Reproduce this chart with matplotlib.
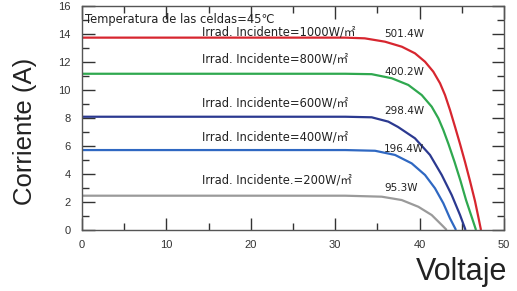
import numpy as np
import matplotlib
matplotlib.use('Agg')
import matplotlib.pyplot as plt
from matplotlib.ticker import MultipleLocator

## curve data (voltage V, current A)
v_1000 = [0, 31.2, 33.5, 35.9, 37.9, 39.45, 40.64, 41.62, 42.42, 43.01, 43.6, 44.19,
          44.79, 45.38, 45.97, 46.56, 46.98, 47.27]
i_1000 = [13.74, 13.74, 13.69, 13.45, 13.09, 12.62, 12.02, 11.31, 10.48, 9.64, 8.57, 7.38,
          6.14, 4.86, 3.5, 2.07, 0.86, 0.0]

v_800 = [0, 31.2, 34.32, 36.69, 38.66, 40.25, 41.43, 42.22, 42.81, 43.42, 44.14, 44.85,
         45.5, 46.21, 46.68]
i_800 = [11.16, 11.16, 11.13, 10.84, 10.36, 9.64, 8.81, 7.98, 7.14, 6.14, 4.86, 3.5,
         2.14, 0.86, 0.0]

v_600 = [0, 31.2, 34.32, 36.29, 37.44, 39.45, 41.23, 42.62, 43.8, 44.79, 45.44]
i_600 = [8.09, 8.09, 8.05, 7.74, 7.36, 6.55, 5.36, 3.93, 2.5, 1.07, 0.0]

v_400 = [0, 31.2, 34.72, 37.09, 39.06, 40.64, 41.82, 42.81, 43.6, 44.31]
i_400 = [5.71, 5.71, 5.66, 5.36, 4.76, 3.93, 2.98, 1.91, 0.83, 0.0]

v_200 = [0, 31.2, 35.51, 37.88, 39.85, 41.43, 42.62, 43.21]
i_200 = [2.45, 2.45, 2.38, 2.14, 1.66, 1.07, 0.36, 0.0]

irrad_labels = ['Irrad. Incidente=1000W/㎡', 'Irrad. Incidente=800W/㎡',
                'Irrad. Incidente=600W/㎡', 'Irrad. Incidente=400W/㎡',
                'Irrad. Incidente.=200W/㎡']
irrad_y = [14.15, 12.2, 9.07, 6.64, 3.57]
power_labels = ['501.4W', '400.2W', '298.4W', '196.4W', '95.3W']
power_y = [13.98, 11.26, 8.5, 5.79, 2.98]

colors = ['#d7262f', '#2fa84f', '#2b3990', '#2f68c2', '#9a9a9a']
curves = [(v_1000, i_1000), (v_800, i_800), (v_600, i_600),
          (v_400, i_400), (v_200, i_200)]

fam = ['DejaVu Sans', 'Noto Sans CJK SC']

fig = plt.figure(figsize=(5.17, 2.91), dpi=100)
ax = fig.add_axes([0.1586, 0.2096, 0.8163, 0.7698])

for (vv, ii), c in zip(curves, colors):
    ax.plot(vv, ii, color=c, lw=1.6, solid_capstyle='butt', solid_joinstyle='round')

for lab, yy in zip(irrad_labels, irrad_y):
    ax.text(14.2, yy, lab, fontsize=8.3, family=fam, color='#222222',
            va='center', ha='left')
for lab, yy in zip(power_labels, power_y):
    ax.text(35.8, yy, lab, fontsize=7.5, family=fam, color='#222222',
            va='center', ha='left')

ax.text(0.3, 15.05, 'Temperatura de las celdas=45℃', fontsize=8.3,
        family=fam, color='#222222', va='center', ha='left')

ax.set_xlim(0, 50)
ax.set_ylim(0, 16)
ax.xaxis.set_major_locator(MultipleLocator(10))
ax.xaxis.set_minor_locator(MultipleLocator(5))
ax.yaxis.set_major_locator(MultipleLocator(2))
ax.yaxis.set_minor_locator(MultipleLocator(1))
ax.tick_params(which='both', direction='in', top=True, right=True,
               color='#333333', width=1.0)
ax.tick_params(which='major', length=9)
ax.tick_params(which='minor', length=5)
ax.tick_params(axis='x', which='major', pad=7)
ax.tick_params(axis='y', which='major', pad=8)
for lab in ax.get_xticklabels() + ax.get_yticklabels():
    lab.set_fontsize(8)
    lab.set_color('#333333')
    lab.set_family('Liberation Sans')
for sp in ax.spines.values():
    sp.set_color('#555555')
    sp.set_linewidth(1.0)

fig.text(0.048, 0.55, 'Corriente (A)', rotation=90, fontsize=18.5,
         family='Liberation Sans', color='#222222', ha='center', va='center')
fig.text(0.892, 0.065, 'Voltaje', fontsize=22, family='Liberation Sans',
         color='#222222', ha='center', va='center')

fig.savefig('out.png', dpi=100)
